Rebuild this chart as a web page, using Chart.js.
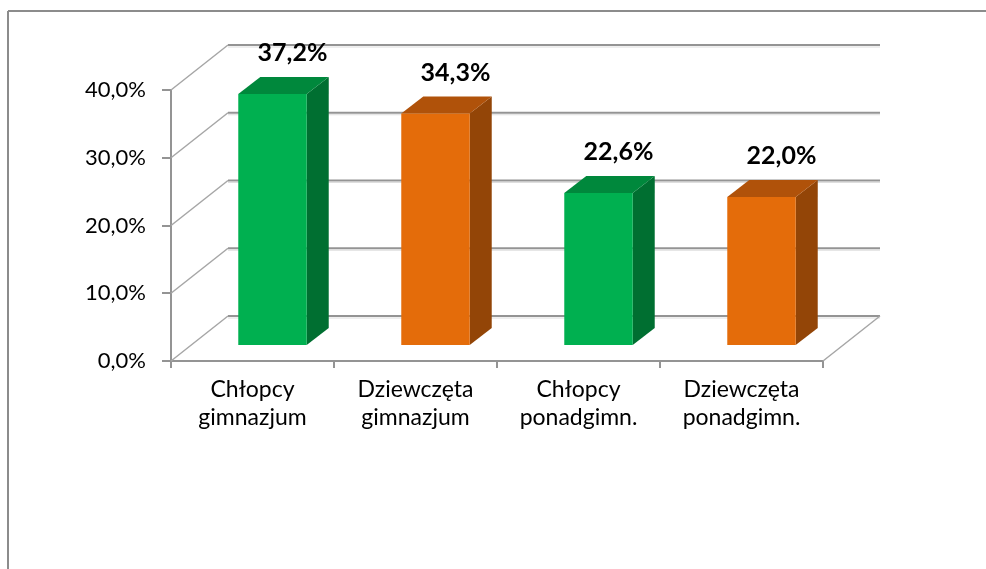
<!DOCTYPE html>
<html>
<head>
<meta charset="utf-8">
<script src="https://cdn.jsdelivr.net/npm/chart.js@4/dist/chart.umd.min.js"></script>
<style>
  html, body { margin: 0; padding: 0; background: #fff; }
  #wrap { width: 986px; height: 569px; }
</style>
</head>
<body>
<div id="wrap"><canvas id="chart" width="986" height="569"></canvas></div>
<script>
// data
const categories = [
  ['Chłopcy', 'gimnazjum'],
  ['Dziewczęta', 'gimnazjum'],
  ['Chłopcy', 'ponadgimn.'],
  ['Dziewczęta', 'ponadgimn.'],
];
const values = [37.2, 34.3, 22.6, 22.0];
const yTicks = [0, 10, 20, 30, 40];

// look
const FONT = 'Lato, "Open Sans", sans-serif';
const GRID = '#949494';
const green = { front: '#00b050', top: '#00883c', side: '#006f31' };
const orange = { front: '#e46c0a', top: '#b0520a', side: '#934507' };
const palette = [green, orange, green, orange];

const WALL = { dx: 57, dy: -45 };      // depth of the 3d box
const BAR_FRONT = { dx: 20, dy: -15 };  // bar front face inside the depth
const BAR_BACK = { dx: 42, dy: -32 };   // bar back face

const fmt = v => v.toFixed(1).replace('.', ',') + '%';

const line = (ctx, x1, y1, x2, y2, color, w) => {
  ctx.beginPath();
  ctx.moveTo(x1, y1);
  ctx.lineTo(x2, y2);
  ctx.strokeStyle = color;
  ctx.lineWidth = w;
  ctx.stroke();
};

const poly = (ctx, pts, color) => {
  ctx.beginPath();
  ctx.moveTo(pts[0][0], pts[0][1]);
  pts.slice(1).forEach(p => ctx.lineTo(p[0], p[1]));
  ctx.closePath();
  ctx.fillStyle = color;
  ctx.fill();
};

const box3d = {
  id: 'box3d',
  beforeDraw(chart) {
    const ctx = chart.ctx;
    ctx.save();
    // outer frame of the picture
    line(ctx, 8, 11, chart.width, 11, '#8c8c8c', 2);
    line(ctx, 8, 11, 8, chart.height, '#8c8c8c', 2);
    ctx.restore();
  },
  beforeDatasetsDraw(chart) {
    const ctx = chart.ctx;
    const { left, right, bottom } = chart.chartArea;
    const y = chart.scales.y;
    ctx.save();
    // back wall lines and left wall diagonals
    yTicks.forEach(t => {
      const py = y.getPixelForValue(t);
      line(ctx, left + WALL.dx, py + WALL.dy + 2, right + WALL.dx, py + WALL.dy + 2, '#dedede', 1);
      line(ctx, left + WALL.dx, py + WALL.dy, right + WALL.dx, py + WALL.dy, GRID, 2);
      line(ctx, left, py, left + WALL.dx, py + WALL.dy, '#a6a6a6', 1.5);
    });
    // floor right edge
    line(ctx, right, bottom, right + WALL.dx, bottom + WALL.dy, '#a6a6a6', 1.5);
    ctx.restore();
  },
  afterDatasetsDraw(chart) {
    const ctx = chart.ctx;
    const meta = chart.getDatasetMeta(0);
    ctx.save();
    meta.data.forEach((bar, i) => {
      const c = palette[i];
      const x0 = bar.x - bar.width / 2, x1 = bar.x + bar.width / 2;
      const yt = bar.y, yb = bar.base;
      const f = BAR_FRONT, b = BAR_BACK;
      // side face
      poly(ctx, [[x1 + f.dx, yt + f.dy], [x1 + b.dx, yt + b.dy], [x1 + b.dx, yb + b.dy], [x1 + f.dx, yb + f.dy]], c.side);
      // top face
      poly(ctx, [[x0 + f.dx, yt + f.dy], [x1 + f.dx, yt + f.dy], [x1 + b.dx, yt + b.dy], [x0 + b.dx, yt + b.dy]], c.top);
      // front face
      poly(ctx, [[x0 + f.dx, yt + f.dy], [x1 + f.dx, yt + f.dy], [x1 + f.dx, yb + f.dy], [x0 + f.dx, yb + f.dy]], c.front);
      // value label
      ctx.font = 'bold 25px ' + FONT;
      ctx.fillStyle = '#000';
      ctx.textAlign = 'center';
      ctx.textBaseline = 'middle';
      ctx.fillText(fmt(values[i]), bar.x + 40, yt - 56);
    });
    ctx.restore();
  },
};

new Chart(document.getElementById('chart'), {
  type: 'bar',
  data: {
    labels: categories,
    datasets: [{
      data: values,
      backgroundColor: 'rgba(0,0,0,0)',
      borderWidth: 0,
      barPercentage: 0.42,
      categoryPercentage: 1,
    }],
  },
  options: {
    responsive: false,
    devicePixelRatio: 1,
    animation: false,
    layout: { padding: { left: 0, right: 163, top: 90, bottom: 0 } },
    plugins: { legend: { display: false }, tooltip: { enabled: false } },
    scales: {
      x: {
        grid: { display: true, offset: true, drawOnChartArea: false, tickLength: 7, color: GRID, lineWidth: 2 },
        border: { display: true, color: GRID, width: 2 },
        ticks: { color: '#000', font: { family: FONT, size: 23, lineHeight: '28px' }, padding: 8, maxRotation: 0 },
        afterFit: s => { s.height = 208; },
      },
      y: {
        min: 0,
        max: 40,
        afterBuildTicks: s => { s.ticks = yTicks.map(v => ({ value: v })); },
        grid: { display: true, drawOnChartArea: false, tickLength: 9, color: GRID, lineWidth: 2 },
        border: { display: true, color: GRID, width: 2 },
        ticks: { color: '#000', font: { family: FONT, size: 22 }, padding: 16, callback: v => fmt(v) },
        afterFit: s => { s.width = 171; },
      },
    },
  },
  plugins: [box3d],
});
</script>
</body>
</html>
